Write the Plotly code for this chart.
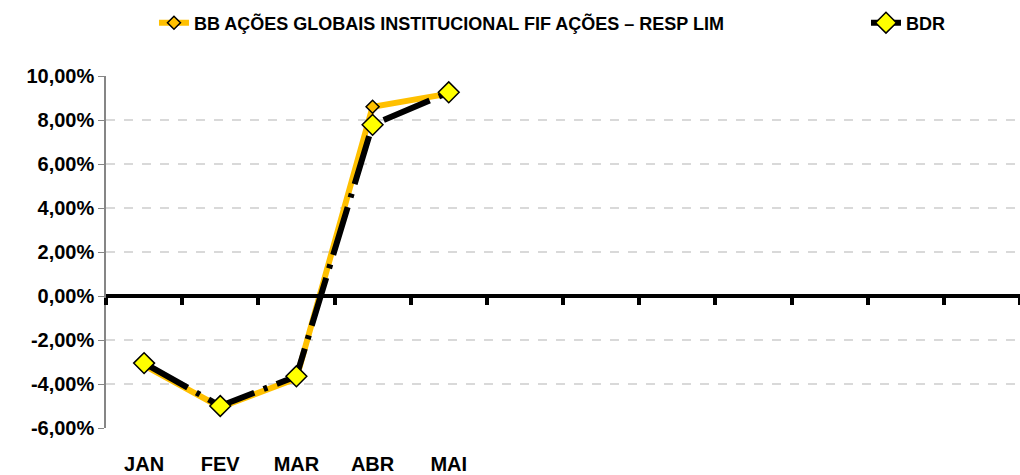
import plotly.graph_objects as go

# Dados do gráfico
meses = ["JAN", "FEV", "MAR", "ABR", "MAI", "", "", "", "", "", "", ""]
fundo = [-0.0315, -0.0505, -0.0375, 0.0860, 0.0920]
bdr = [-0.0305, -0.0500, -0.0365, 0.0778, 0.0926]

nome_fundo = "BB AÇÕES GLOBAIS INSTITUCIONAL FIF AÇÕES – RESP LIM"
nome_bdr = "BDR"

y_ticks = [-0.06, -0.04, -0.02, 0.0, 0.02, 0.04, 0.06, 0.08, 0.10]
y_min, y_max = y_ticks[0], y_ticks[-1]
y_text = [f"{v * 100:.2f}%".replace(".", ",") for v in y_ticks]

x_pos = list(range(len(meses)))
fronteiras = [i - 0.5 for i in range(len(meses) + 1)]

fonte = "Liberation Sans, Arial, sans-serif"

fig = go.Figure()

fig.add_trace(go.Scatter(
    x=x_pos[:len(fundo)], y=fundo, name=nome_fundo, mode="lines+markers",
    line=dict(color="#FFC000", width=6),
    marker=dict(symbol="diamond", size=10, color="#FFC000",
                line=dict(color="black", width=1.5)),
    legend="legend",
))

fig.add_trace(go.Scatter(
    x=x_pos[:len(bdr)], y=bdr, name=nome_bdr, mode="lines+markers",
    xaxis="x2",
    line=dict(color="black", width=6, dash="50px,10px,4px,10px"),
    marker=dict(symbol="diamond", size=16, color="#FFFF00",
                line=dict(color="black", width=1.5)),
    legend="legend2",
))

fig.update_layout(
    width=1020, height=475,
    margin=dict(l=106, r=0, t=76, b=47, autoexpand=False),
    paper_bgcolor="white", plot_bgcolor="white",
    font=dict(family=fonte, color="black"),
    showlegend=True,
    xaxis=dict(
        range=[fronteiras[0], fronteiras[-1]],
        tickvals=x_pos, ticktext=meses,
        showgrid=False, zeroline=False, showline=False, ticks="",
        tickfont=dict(size=20, family=fonte, weight="bold"),
        ticklabelstandoff=22, automargin=False,
    ),
    xaxis2=dict(
        overlaying="x", anchor="free",
        position=(0 - y_min) / (y_max - y_min),
        range=[fronteiras[0], fronteiras[-1]],
        tickvals=fronteiras, showticklabels=False,
        ticks="outside", ticklen=7, tickwidth=4, tickcolor="black",
        showline=True, linecolor="black", linewidth=4,
        showgrid=False, zeroline=False, automargin=False,
    ),
    yaxis=dict(
        range=[y_min, y_max], tickvals=y_ticks, ticktext=y_text,
        showgrid=True, gridcolor="#D9D9D9", griddash="dash", gridwidth=1.5,
        zeroline=False, automargin=False,
        showline=True, linecolor="#868686", linewidth=1.5,
        ticks="outside", ticklen=6, tickcolor="#868686",
        tickfont=dict(size=20, family=fonte, weight="bold"),
    ),
    legend=dict(
        x=0.0525, xanchor="left", y=1 - 23 / 475, yanchor="middle",
        yref="container", bgcolor="rgba(0,0,0,0)",
        font=dict(size=18, family=fonte, weight="bold"),
    ),
    legend2=dict(
        x=0.8315, xanchor="left", y=1 - 23 / 475, yanchor="middle",
        yref="container", bgcolor="rgba(0,0,0,0)",
        font=dict(size=18, family=fonte, weight="bold"),
    ),
)

# tira a margem padrão da página para a figura ocupar a janela inteira
fig.write_html(
    "out.html",
    config={"displayModeBar": False},
    post_script="document.body.style.margin='0';document.body.style.overflow='hidden';",
)
